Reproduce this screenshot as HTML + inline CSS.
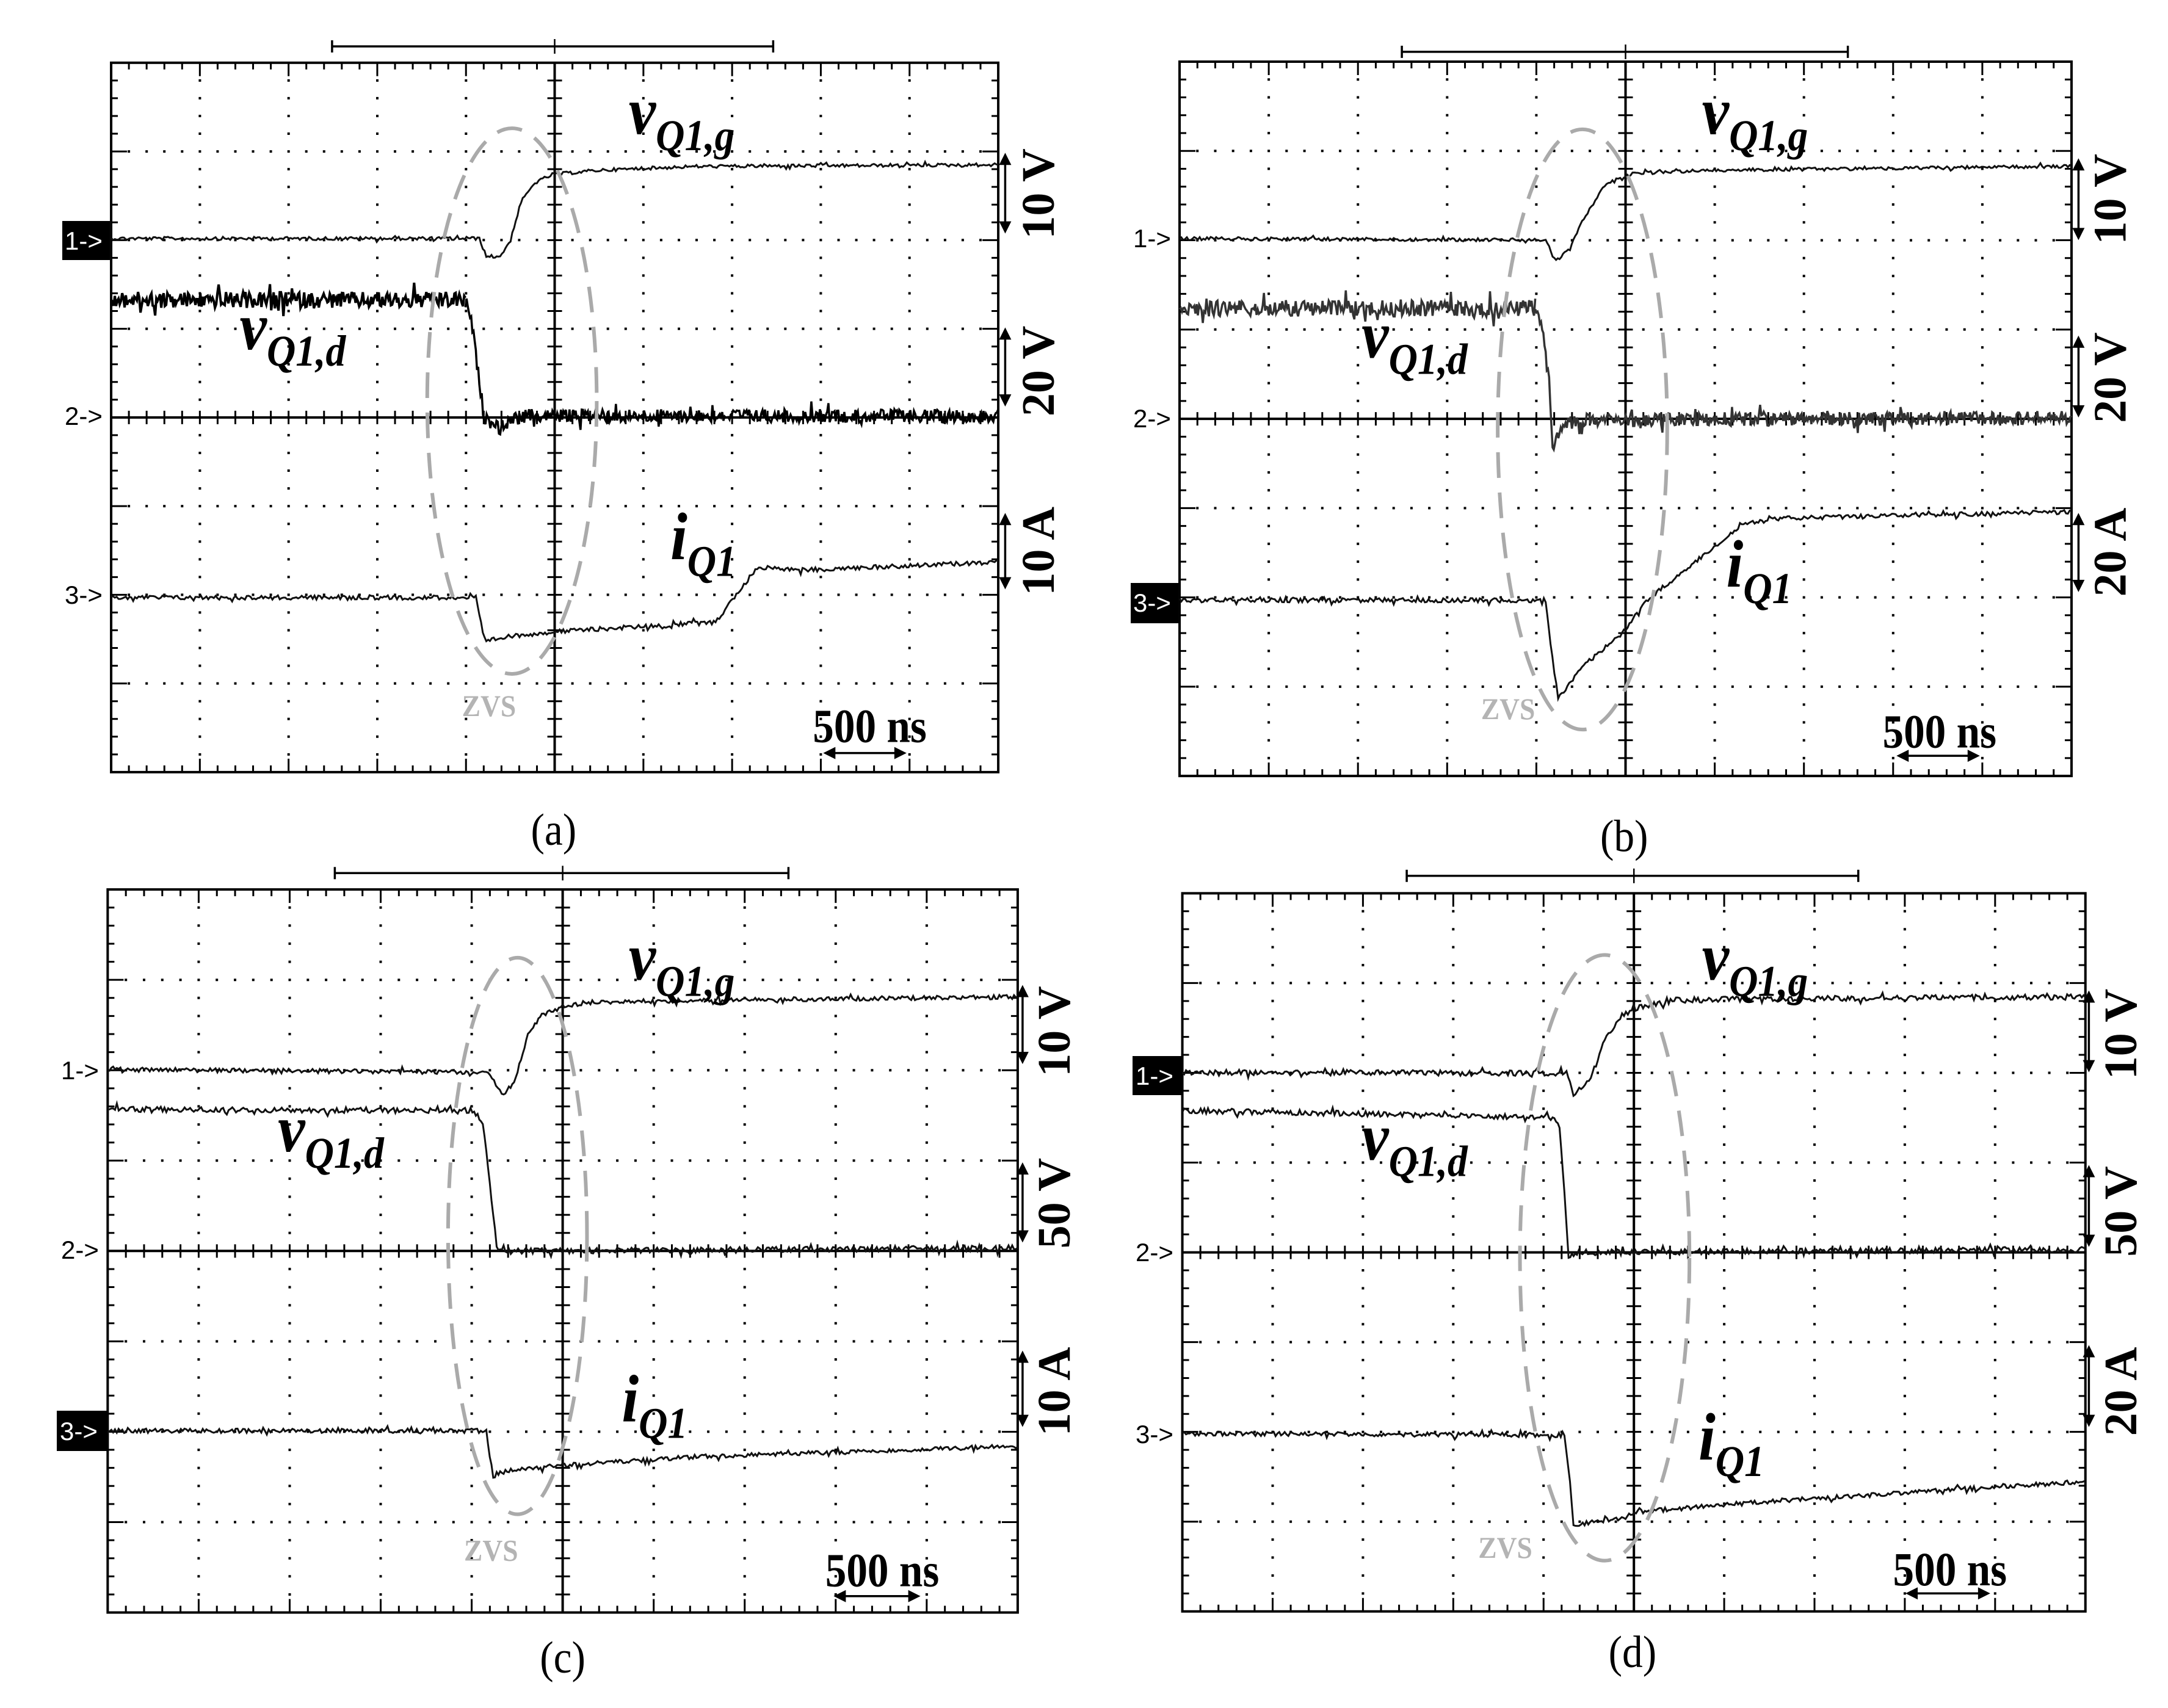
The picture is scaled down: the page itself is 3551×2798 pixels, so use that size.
<!DOCTYPE html>
<html><head><meta charset="utf-8"><style>
html,body{margin:0;padding:0;background:#fff}
svg{display:block}
.lab{font-family:"Liberation Serif",serif;font-weight:bold;font-style:italic;font-size:110px;fill:#000}
.sb{font-size:72px}
.rl{font-family:"Liberation Serif",serif;font-weight:bold;font-size:76px;fill:#000}
.ns{font-family:"Liberation Serif",serif;font-weight:bold;font-size:78px;fill:#000}
.zvs{font-family:"Liberation Serif",serif;font-weight:bold;font-size:50px;fill:#b4b4b4}
.cap{font-family:"Liberation Serif",serif;font-size:74px;fill:#000}
.mk{font-family:"Liberation Sans",sans-serif;font-size:42px;fill:#000}
.mkw{font-family:"Liberation Sans",sans-serif;font-size:42px;fill:#fff}
</style></head><body>
<svg id="s" xmlns="http://www.w3.org/2000/svg" width="3551" height="2798" viewBox="0 0 3551 2798">
<rect width="3551" height="2798" fill="#fff"/>
<g id="draw"></g>

<!-- (a) -->
<g transform="translate(0,0) scale(1.1378,0.8939)">
<text class="lab" transform="translate(905,245) scale(.80,1.1187)">v<tspan class="sb" dy="27">Q1,g</tspan></text>
<text class="lab" transform="translate(345,640) scale(.80,1.1187)">v<tspan class="sb" dy="27">Q1,d</tspan></text>
<text class="lab" transform="translate(965,1025) scale(.80,1.1187)">i<tspan class="sb" dy="27">Q1</tspan></text>
<text class="zvs" transform="translate(665,1312) scale(.8,1.1187)">ZVS</text>
<text class="ns" transform="translate(1170,1360) scale(.78,1.1187)">500 ns</text>
<text class="rl" text-anchor="middle" transform="translate(1517,355) scale(.8789,1.1187) rotate(-90)">10 V</text>
<text class="rl" text-anchor="middle" transform="translate(1517,680) scale(.8789,1.1187) rotate(-90)">20 V</text>
<text class="rl" text-anchor="middle" transform="translate(1517,1010) scale(.8789,1.1187) rotate(-90)">10 A</text>
<text class="cap" text-anchor="middle" transform="translate(797,1548) scale(.8,1.1187)">(a)</text>
</g>
<!-- (b) -->
<g transform="translate(1775,0) scale(1.1378,0.8939)">
<text class="lab" transform="translate(890,245) scale(.80,1.1187)">v<tspan class="sb" dy="27">Q1,g</tspan></text>
<text class="lab" transform="translate(400,655) scale(.80,1.1187)">v<tspan class="sb" dy="27">Q1,d</tspan></text>
<text class="lab" transform="translate(925,1075) scale(.80,1.1187)">i<tspan class="sb" dy="27">Q1</tspan></text>
<text class="zvs" transform="translate(572,1318) scale(.8,1.1187)">ZVS</text>
<text class="ns" transform="translate(1150,1370) scale(.78,1.1187)">500 ns</text>
<text class="rl" text-anchor="middle" transform="translate(1500,365) scale(.8789,1.1187) rotate(-90)">10 V</text>
<text class="rl" text-anchor="middle" transform="translate(1500,692) scale(.8789,1.1187) rotate(-90)">20 V</text>
<text class="rl" text-anchor="middle" transform="translate(1500,1012) scale(.8789,1.1187) rotate(-90)">20 A</text>
<text class="cap" text-anchor="middle" transform="translate(778,1560) scale(.8,1.1187)">(b)</text>
</g>
<!-- (c) -->
<g transform="translate(0,1399) scale(1.1378,0.8939)">
<text class="lab" transform="translate(905,230) scale(.80,1.1187)">v<tspan class="sb" dy="27">Q1,g</tspan></text>
<text class="lab" transform="translate(400,545) scale(.80,1.1187)">v<tspan class="sb" dy="27">Q1,d</tspan></text>
<text class="lab" transform="translate(895,1040) scale(.80,1.1187)">i<tspan class="sb" dy="27">Q1</tspan></text>
<text class="zvs" transform="translate(668,1295) scale(.8,1.1187)">ZVS</text>
<text class="ns" transform="translate(1188,1342) scale(.78,1.1187)">500 ns</text>
<text class="rl" text-anchor="middle" transform="translate(1540,325) scale(.8789,1.1187) rotate(-90)">10 V</text>
<text class="rl" text-anchor="middle" transform="translate(1540,640) scale(.8789,1.1187) rotate(-90)">50 V</text>
<text class="rl" text-anchor="middle" transform="translate(1540,985) scale(.8789,1.1187) rotate(-90)">10 A</text>
<text class="cap" text-anchor="middle" transform="translate(810,1500) scale(.8,1.1187)">(c)</text>
</g>
<!-- (d) -->
<g transform="translate(1775,1399) scale(1.1378,0.8939)">
<text class="lab" transform="translate(890,230) scale(.80,1.1187)">v<tspan class="sb" dy="27">Q1,g</tspan></text>
<text class="lab" transform="translate(400,560) scale(.80,1.1187)">v<tspan class="sb" dy="27">Q1,d</tspan></text>
<text class="lab" transform="translate(885,1110) scale(.80,1.1187)">i<tspan class="sb" dy="27">Q1</tspan></text>
<text class="zvs" transform="translate(568,1290) scale(.8,1.1187)">ZVS</text>
<text class="ns" transform="translate(1165,1340) scale(.78,1.1187)">500 ns</text>
<text class="rl" text-anchor="middle" transform="translate(1515,330) scale(.8789,1.1187) rotate(-90)">10 V</text>
<text class="rl" text-anchor="middle" transform="translate(1515,655) scale(.8789,1.1187) rotate(-90)">50 V</text>
<text class="rl" text-anchor="middle" transform="translate(1515,985) scale(.8789,1.1187) rotate(-90)">20 A</text>
<text class="cap" text-anchor="middle" transform="translate(790,1490) scale(.8,1.1187)">(d)</text>
</g>

<g id="marks">
<rect x="102" y="362" width="78" height="64" fill="#000"/>
<text class="mkw" x="106" y="409">1-&gt;</text>
<text class="mk" x="106" y="696">2-&gt;</text>
<text class="mk" x="106" y="989">3-&gt;</text>
<text class="mk" x="1856" y="405">1-&gt;</text>
<text class="mk" x="1856" y="700">2-&gt;</text>
<rect x="1852" y="955" width="78" height="66" fill="#000"/>
<text class="mkw" x="1856" y="1002">3-&gt;</text>
<text class="mk" x="100" y="1768">1-&gt;</text>
<text class="mk" x="100" y="2062">2-&gt;</text>
<rect x="93" y="2311" width="82" height="66" fill="#000"/>
<text class="mkw" x="98" y="2359">3-&gt;</text>
<rect x="1855" y="1730" width="80" height="64" fill="#000"/>
<text class="mkw" x="1860" y="1777">1-&gt;</text>
<text class="mk" x="1860" y="2066">2-&gt;</text>
<text class="mk" x="1860" y="2364">3-&gt;</text>
</g>
</svg>
<script>
(function(){
var SX=1775/1560, SY=1399/1565;
var seed=12345;function rnd(){seed=(seed*1103515245+12345)%2147483648;return seed/2147483648;}
var P=[
{ox:0,oy:0,L:160,R:1437,T:115,B:1415,by:85,b1:478,b2:1113,
 el:[737,735,122,500],ax:1447,ar:[[280,428],[600,745],[940,1080]],na:[1185,1305,1380],
 tr:[
 {a:3,c:'#111',w:3,p:[[160,437],[690,437],[700,470],[720,470],[735,440],[750,370],[770,335],[795,320],[860,312],[1000,305],[1437,302]]},
 {a:15,c:'#000',w:4,st:2,p:[[160,550],[670,550]]},
 {a:12,c:'#000',w:3.5,st:2,p:[[670,550],[680,600],[690,700],[697,765],[720,785],[735,770],[760,762],[1437,762]]},
 {a:4,c:'#111',w:3,p:[[160,1095],[685,1095],[695,1160],[700,1175],[740,1165],[795,1158],[1030,1140],[1060,1090],[1090,1040],[1110,1040],[1150,1045],[1437,1030]]}
 ]},
{ox:1775,oy:0,L:138,R:1422,T:113,B:1422,by:95,b1:458,b2:1100,
 el:[718,787,122,550],ax:1432,ar:[[290,440],[615,765],[940,1085]],na:[1170,1290,1385],
 tr:[
 {a:3,c:'#111',w:3,p:[[138,437],[665,440],[680,478],[700,455],[720,400],[750,340],[775,325],[790,318],[900,312],[1422,305]]},
 {a:15,c:'#333',w:3.5,st:2,p:[[138,565],[650,565]]},
 {a:12,c:'#333',w:3.5,st:2,p:[[650,565],[660,600],[670,700],[675,820],[690,780],[710,770],[1422,765]]},
 {a:4,c:'#111',w:3,p:[[138,1100],[665,1100],[672,1180],[683,1280],[720,1220],[775,1160],[815,1095],[870,1040],[950,960],[1000,950],[1422,938]]}
 ]},
{ox:0,oy:1399,L:155,R:1465,T:65,B:1390,by:35,b1:482,b2:1135,
 el:[745,700,100,510],ax:1472,ar:[[240,385],[565,712],[910,1050]],na:[1200,1325,1360],
 tr:[
 {a:4,c:'#111',w:3,p:[[155,395],[700,400],[725,440],[740,420],[760,330],[780,295],[810,280],[850,272],[1000,268],[1465,262]]},
 {a:5,c:'#111',w:3,p:[[155,468],[680,470],[695,490],[705,600],[715,720],[730,728],[1465,722]]},
 {a:4,c:'#111',w:3,p:[[155,1057],[700,1057],[710,1140],[730,1130],[810,1120],[1000,1105],[1465,1085]]}
 ]},
{ox:1775,oy:1399,L:142,R:1442,T:72,B:1388,by:40,b1:465,b2:1115,
 el:[750,740,122,555],ax:1447,ar:[[250,400],[570,720],[900,1050]],na:[1183,1305,1355],
 tr:[
 {a:5,c:'#111',w:3,p:[[142,400],[695,402],[705,440],[730,410],[750,340],[775,295],[800,280],[850,268],[1000,265],[1442,262]]},
 {a:5,c:'#111',w:3,p:[[142,470],[675,483],[685,500],[692,620],[698,740],[710,730],[1442,725]]},
 {a:4,c:'#111',w:3,p:[[142,1062],[692,1065],[700,1150],[705,1230],[780,1215],[800,1205],[1000,1185],[1442,1150]]}
 ]}
];
var h=[];
function L(x1,y1,x2,y2,w,c){h.push('<line x1="'+x1.toFixed(1)+'" y1="'+y1.toFixed(1)+'" x2="'+x2.toFixed(1)+'" y2="'+y2.toFixed(1)+'" stroke="'+(c||'#000')+'" stroke-width="'+w+'"/>');}
P.forEach(function(p){
 var X=function(z){return p.ox+z*SX},Y=function(z){return p.oy+z*SY};
 var l=X(p.L),r=X(p.R),t=Y(p.T),b=Y(p.B),dx=(r-l)/10,dy=(b-t)/8,cx=l+5*dx,cy=t+4*dy;
 var d='';
 for(var i=1;i<10;i++){if(i==5)continue;var x=l+i*dx;for(var k=1;k<40;k++){var y=t+k*dy/5;d+='M'+(x-2).toFixed(1)+' '+(y-2).toFixed(1)+'h4v4h-4z';}}
 for(var j=1;j<8;j++){if(j==4)continue;var y=t+j*dy;for(var k=1;k<50;k++){var x=l+k*dx/5;d+='M'+(x-2).toFixed(1)+' '+(y-2).toFixed(1)+'h4v4h-4z';}}
 h.push('<path d="'+d+'" fill="#000"/>');
 var tk='';
 for(var k=1;k<50;k++){var x=l+k*dx/5;var len=(k%5==0)?22:11;tk+='M'+x+' '+t+'v'+len+'M'+x+' '+b+'v-'+len+'M'+x+' '+(cy-11)+'v22';}
 for(var k=1;k<40;k++){var y=t+k*dy/5;var len=(k%5==0)?26:11;tk+='M'+l+' '+y+'h'+len+'M'+r+' '+y+'h-'+len+'M'+(cx-12)+' '+y+'h24';}
 h.push('<path d="'+tk+'" stroke="#000" stroke-width="3" fill="none"/>');
 h.push('<rect x="'+l+'" y="'+t+'" width="'+(r-l)+'" height="'+(b-t)+'" fill="none" stroke="#000" stroke-width="4"/>');
 L(cx,t,cx,b,4);L(l,cy,r,cy,4);
 var by=Y(p.by),b1=X(p.b1),b2=X(p.b2);
 L(b1,by,b2,by,3.5);L(b1,by-10,b1,by+10,3.5);L(b2,by-10,b2,by+10,3.5);L(cx,by-12,cx,by+12,2.5);
 p.tr.forEach(function(tr){
  var pts=[];var stp=tr.st||3;
  for(var s=0;s<tr.p.length-1;s++){
   var a=tr.p[s],c=tr.p[s+1];var x1=X(a[0]),y1=Y(a[1]),x2=X(c[0]),y2=Y(c[1]);
   var n=Math.max(1,Math.round(Math.abs(x2-x1)/stp));
   for(var q=(s==0?0:1);q<=n;q++){var f=q/n;var x=x1+(x2-x1)*f,y=y1+(y2-y1)*f;
    var rr=rnd();var nz=tr.a*(rnd()-0.5)*2*SY; if(rr<0.06)nz*=2.2;
    if(n>3) y+=nz; pts.push(x.toFixed(1)+','+y.toFixed(1));}
  }
  h.push('<polyline points="'+pts.join(' ')+'" fill="none" stroke="'+tr.c+'" stroke-width="'+(tr.w||2.6)+'" stroke-linejoin="miter"/>');
 });
 var e=p.el;
 h.push('<ellipse cx="'+X(e[0])+'" cy="'+Y(e[1])+'" rx="'+(e[2]*SX)+'" ry="'+(e[3]*SY)+'" fill="none" stroke="#aaaaaa" stroke-width="6" stroke-dasharray="42 24"/>');
 var ax=X(p.ax);
 p.ar.forEach(function(a){var y1=Y(a[0]),y2=Y(a[1]);L(ax,y1+10,ax,y2-10,3.5);
  h.push('<path d="M'+ax+' '+y1+'l-10 20h20zM'+ax+' '+y2+'l-10 -20h20z" fill="#000"/>');});
 var n1=X(p.na[0]),n2=X(p.na[1]),ny=Y(p.na[2]);
 L(n1+12,ny,n2-12,ny,3.5);
 h.push('<path d="M'+n1+' '+ny+'l20 -10v20zM'+n2+' '+ny+'l-20 -10v20z" fill="#000"/>');
});
document.getElementById('draw').innerHTML=h.join('');
})();
</script>
</body></html>
